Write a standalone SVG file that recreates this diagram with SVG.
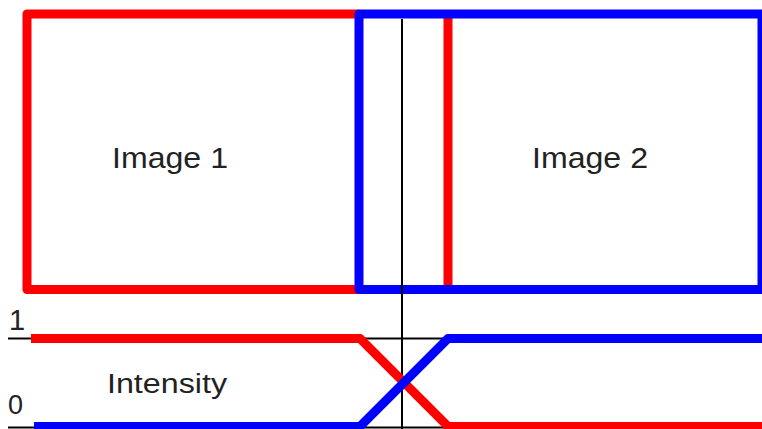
<svg xmlns="http://www.w3.org/2000/svg" width="762" height="429" viewBox="0 0 762 429">
<style>
.r{fill:none;stroke:#ff0000;stroke-width:9;stroke-linejoin:round}
.b{fill:none;stroke:#0000ff;stroke-width:9;stroke-linejoin:round}
.k{fill:none;stroke:#000;stroke-width:2}
text{font-family:"Liberation Sans",Arial,sans-serif;fill:#222}
</style>
<rect width="762" height="429" fill="#fff"/>
<g id="image1">
<polyline class="r" points="359,14 27,14 27,289.5 359,289.5"/>
<line class="r" x1="448" y1="14" x2="448" y2="289.5"/>
<text x="170" y="168" font-size="29" text-anchor="middle" textLength="116" lengthAdjust="spacingAndGlyphs">Image 1</text>
</g>
<g id="image2">
<rect class="b" x="359" y="14" width="403" height="275.5"/>
<text x="590" y="168" font-size="29" text-anchor="middle" textLength="116" lengthAdjust="spacingAndGlyphs">Image 2</text>
</g>
<g id="connectors">
<line class="k" x1="402" y1="19" x2="402" y2="429"/>
<line class="k" x1="8" y1="338.5" x2="32" y2="338.5"/>
<line class="k" x1="360" y1="338.5" x2="448" y2="338.5"/>
<line class="k" x1="8" y1="427.5" x2="36" y2="427.5"/>
<line class="k" x1="360" y1="427.5" x2="448" y2="427.5"/>
<polyline class="r" points="31,338.5 360,338.5 448,426.5 762,426.5"/>
<polyline class="b" points="34,426.5 360,426.5 448,338.5 762,338.5"/>
</g>
<g id="labels">
<text x="107" y="393" font-size="27" textLength="120" lengthAdjust="spacingAndGlyphs">Intensity</text>
<text x="9" y="330" font-size="29">1</text>
<text x="8" y="414" font-size="27">0</text>
</g>
</svg>
